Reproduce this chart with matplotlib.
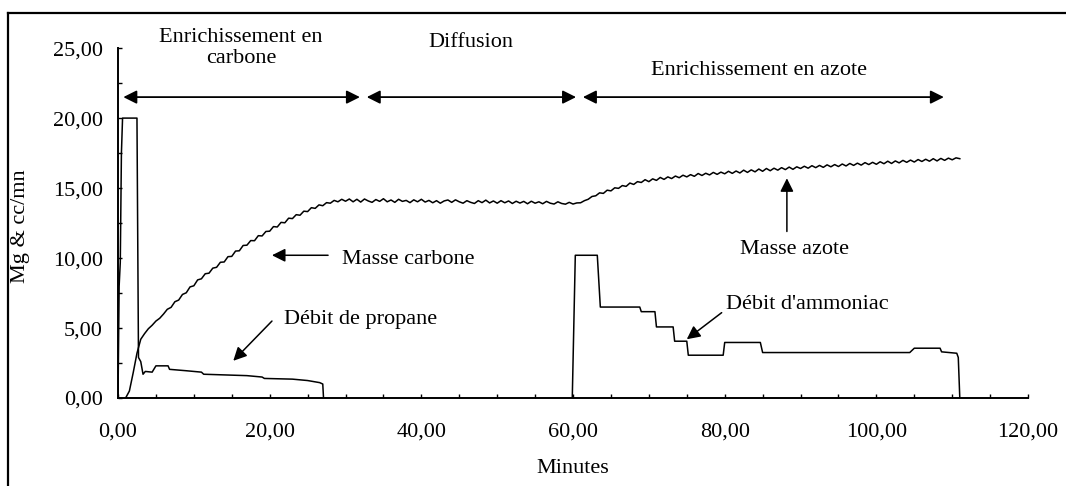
import numpy as np
import matplotlib
matplotlib.use("Agg")
import matplotlib.pyplot as plt
from matplotlib.ticker import MultipleLocator, FuncFormatter
from matplotlib.lines import Line2D

plt.rcParams['font.family'] = ['Liberation Serif', 'DejaVu Serif']

# masse (carbone puis azote), relevée toutes les 0,5 min de 1 a 111 min
masse_x = np.arange(1.0, 111.01, 0.5)
masse_y = [
    0.00, 0.50, 1.80, 3.20, 4.20, 4.60, 4.95, 5.20, 5.50, 5.70,
    6.00, 6.34, 6.48, 6.88, 7.00, 7.40, 7.52, 7.94, 8.02, 8.44,
    8.52, 8.88, 8.92, 9.28, 9.34, 9.70, 9.72, 10.10, 10.12, 10.50,
    10.52, 10.90, 10.92, 11.25, 11.24, 11.60, 11.58, 11.90, 11.92, 12.25,
    12.22, 12.55, 12.52, 12.85, 12.82, 13.10, 13.06, 13.35, 13.32, 13.60,
    13.55, 13.80, 13.74, 13.96, 13.92, 14.12, 14.02, 14.20, 14.06, 14.22,
    14.02, 14.20, 14.00, 14.22, 14.08, 13.98, 14.18, 14.05, 14.24, 14.02,
    14.15, 13.98, 14.20, 14.05, 14.12, 13.96, 14.16, 14.02, 14.20, 14.00,
    14.12, 13.95, 14.10, 13.92, 14.08, 14.15, 13.98, 14.16, 14.02, 13.92,
    14.10, 13.98, 13.90, 14.10, 13.96, 14.14, 13.94, 14.08, 13.92, 14.10,
    13.95, 14.08, 13.90, 14.06, 13.93, 14.05, 13.88, 14.06, 13.92, 14.02,
    13.88, 14.05, 13.92, 13.86, 14.02, 13.90, 13.85, 13.98, 13.86, 13.94,
    13.95, 14.10, 14.20, 14.40, 14.45, 14.66, 14.62, 14.85, 14.80, 15.02,
    14.98, 15.18, 15.12, 15.36, 15.26, 15.46, 15.40, 15.60, 15.46, 15.66,
    15.55, 15.76, 15.62, 15.80, 15.68, 15.86, 15.74, 15.92, 15.80, 15.96,
    15.84, 16.04, 15.90, 16.06, 15.94, 16.12, 15.98, 16.14, 16.02, 16.20,
    16.05, 16.22, 16.08, 16.28, 16.12, 16.30, 16.16, 16.36, 16.20, 16.40,
    16.24, 16.42, 16.28, 16.46, 16.32, 16.50, 16.34, 16.52, 16.40, 16.56,
    16.42, 16.60, 16.46, 16.62, 16.48, 16.66, 16.52, 16.68, 16.54, 16.72,
    16.58, 16.76, 16.62, 16.78, 16.64, 16.82, 16.68, 16.84, 16.70, 16.88,
    16.74, 16.92, 16.76, 16.94, 16.80, 16.98, 16.84, 17.00, 16.86, 17.04,
    16.90, 17.06, 16.92, 17.10, 16.94, 17.12, 16.98, 17.14, 17.02, 17.16,
    17.10,
]

# débit de propane
propane_x = [0.0, 0.15, 0.3, 0.45, 0.6, 2.5, 2.7, 3.0, 3.3, 3.6, 4.5, 5.0,
             6.6, 6.8, 9.0, 11.0, 11.3, 17.0, 19.0, 19.3, 23.0, 25.0, 26.6,
             27.0, 27.1]
propane_y = [0.0, 8.0, 9.7, 17.5, 20.0, 20.0, 2.9, 2.6, 1.7, 1.9, 1.85, 2.3,
             2.3, 2.05, 1.95, 1.85, 1.7, 1.6, 1.5, 1.4, 1.35, 1.25, 1.1,
             1.0, 0.0]

# débit d'ammoniac
ammoniac_x = [59.9, 60.3, 63.2, 63.6, 68.8, 69.0, 70.8, 71.0, 73.2, 73.4,
              75.0, 75.2, 79.8, 80.0, 84.7, 85.0, 104.4, 105.0, 108.4, 108.6,
              110.6, 110.8, 111.0]
ammoniac_y = [0.0, 10.2, 10.2, 6.5, 6.5, 6.17, 6.17, 5.08, 5.08, 4.06,
              4.06, 3.06, 3.06, 3.97, 3.97, 3.25, 3.25, 3.56, 3.56, 3.3,
              3.2, 2.9, 0.0]

# phases
phase_labels = ["Enrichissement en\ncarbone", "Diffusion", "Enrichissement en azote"]
phase_start = [0.7, 32.8, 61.3]
phase_end = [31.9, 60.4, 108.9]

FS = 16

fig = plt.figure(figsize=(10.66, 4.86), dpi=100)
ax = fig.add_axes([0.1107, 0.181, 0.8537, 0.720])

lw = 1.1
ax.plot(masse_x, masse_y, color='black', lw=lw)
ax.plot(propane_x, propane_y, color='black', lw=lw)
ax.plot(ammoniac_x, ammoniac_y, color='black', lw=lw)

ax.set_xlim(0, 120)
ax.set_ylim(0, 25)

for s in ['top', 'right']:
    ax.spines[s].set_visible(False)
for s in ['left', 'bottom']:
    ax.spines[s].set_linewidth(1.4)

fmt = FuncFormatter(lambda v, p: ("%.2f" % v).replace('.', ','))
ax.xaxis.set_major_locator(MultipleLocator(20))
ax.xaxis.set_minor_locator(MultipleLocator(5))
ax.yaxis.set_major_locator(MultipleLocator(5))
ax.yaxis.set_minor_locator(MultipleLocator(2.5))
ax.xaxis.set_major_formatter(fmt)
ax.yaxis.set_major_formatter(fmt)
ax.tick_params(which='both', direction='in', length=3, width=1, labelsize=FS)
ax.tick_params(axis='x', which='major', pad=18)
ax.tick_params(axis='y', which='major', pad=11)

ax.set_xlabel("Minutes", fontsize=FS, labelpad=12)
fig.text(0.019, 0.535, "Mg & cc/mn", rotation=90, fontsize=FS,
         ha='center', va='center')

# flèches de phases
arrow_y = 21.5
for lab, x0, x1 in zip(phase_labels, phase_start, phase_end):
    ax.annotate("", xy=(x1, arrow_y), xytext=(x0, arrow_y),
                arrowprops=dict(arrowstyle='<|-|>', color='black', lw=1.3,
                                mutation_scale=20, shrinkA=0, shrinkB=0))
ax.text(16.2, 25.0, phase_labels[0], ha='center', va='center', fontsize=FS,
        linespacing=1.15, clip_on=False)
ax.text(46.5, 25.4, phase_labels[1], ha='center', va='center', fontsize=FS,
        clip_on=False)
ax.text(84.5, 23.4, phase_labels[2], ha='center', va='center', fontsize=FS)

# annotations des courbes
def note(text, tx, ty, ax0, ay0, ax1, ay1):
    ax.text(tx, ty, text, ha='center', va='center', fontsize=FS)
    ax.annotate("", xy=(ax1, ay1), xytext=(ax0, ay0),
                arrowprops=dict(arrowstyle='-|>', color='black', lw=1.1,
                                mutation_scale=20, shrinkA=0, shrinkB=0))

note("Masse carbone", 38.3, 9.9, 27.7, 10.2, 20.3, 10.2)
note("Débit de propane", 32.0, 5.6, 20.3, 5.5, 15.2, 2.66)
note("Débit d'ammoniac", 90.9, 6.7, 79.6, 6.1, 75.0, 4.2)
note("Masse azote", 89.2, 10.6, 88.2, 11.9, 88.2, 15.7)

# cadre
fig.add_artist(Line2D([0.0075, 0.0075], [0.0, 0.973], color='black', lw=1.6))
fig.add_artist(Line2D([0.0075, 1.0], [0.973, 0.973], color='black', lw=1.6))

fig.savefig("out.png", dpi=100)
